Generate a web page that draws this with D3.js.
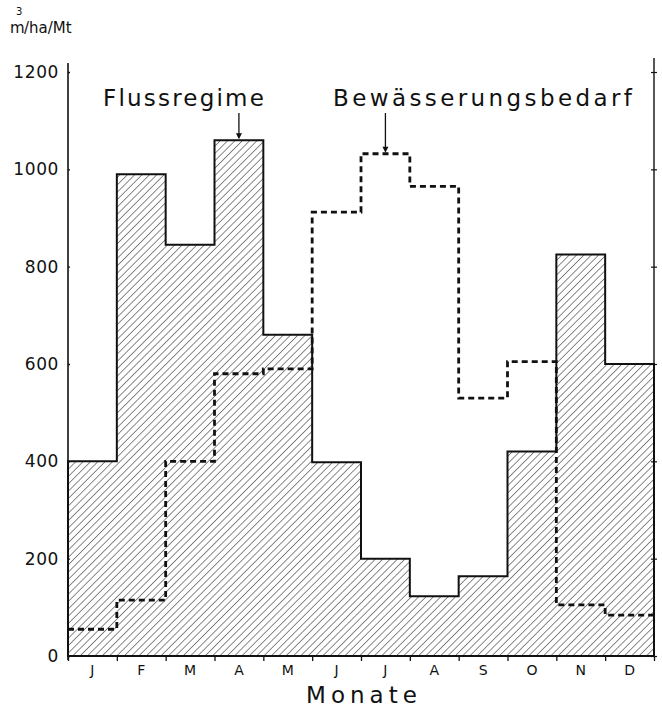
<!DOCTYPE html>
<html><head><meta charset="utf-8">
<script src="https://cdn.jsdelivr.net/npm/d3@7"></script>
<style>
html,body{margin:0;padding:0;background:#fff;}
svg{display:block;}
text{font-family:"DejaVu Sans",sans-serif;fill:#111;}
</style></head>
<body>
<svg id="chart" width="662" height="710"></svg>
<script>
const months = ["J","F","M","A","M","J","J","A","S","O","N","D"];
const flussregime = [400, 990, 845, 1060, 660, 398, 200, 123, 164, 420, 825, 600];
const bewaesserung = [55, 115, 400, 580, 590, 912, 1032, 965, 530, 605, 105, 84];
const yTicks = [0, 200, 400, 600, 800, 1000, 1200];

const svg = d3.select("#chart");
const x0 = 68, x1 = 654, yBase = 656, yTop = 72;
const x = d3.scaleLinear().domain([0, 12]).range([x0, x1]);
const y = d3.scaleLinear().domain([0, 1200]).range([yBase, yTop]);

// hatch pattern
const defs = svg.append("defs");
const pat = defs.append("pattern").attr("id","hatch").attr("patternUnits","userSpaceOnUse")
  .attr("width",5.2).attr("height",5.2).attr("patternTransform","rotate(45)");
pat.append("line").attr("x1",0).attr("y1",0).attr("x2",0).attr("y2",5.2)
  .attr("stroke","#2a2a2a").attr("stroke-width",1.1);

function stepPoints(vals){
  const pts = [];
  vals.forEach((v,i)=>{ pts.push([i, v]); pts.push([i+1, v]); });
  return pts;
}
const line = d3.line().x(d=>x(d[0])).y(d=>y(d[1]));

// Flussregime area
const fPts = [[0,0]].concat(stepPoints(flussregime)).concat([[12,0]]);
svg.append("path").attr("d", line(fPts) + "Z")
  .attr("fill","url(#hatch)").attr("stroke","#111").attr("stroke-width",2);

// Bewässerungsbedarf dashed step
svg.append("path").attr("d", line(stepPoints(bewaesserung)))
  .attr("fill","none").attr("stroke","#111").attr("stroke-width",2.8)
  .attr("stroke-dasharray","6,4");

// left axis
const yAxisL = d3.axisLeft(y).tickValues(yTicks).tickSize(5).tickPadding(3).tickFormat(d3.format("d"));
const gL = svg.append("g").attr("transform",`translate(${x0},0)`).call(yAxisL);
gL.select(".domain").remove();
gL.selectAll(".tick line").attr("stroke","#111").attr("stroke-width",1.3).attr("x2",2);
gL.selectAll(".tick text").attr("font-size",17).attr("fill","#111").attr("dx",-1).attr("letter-spacing","0.6");
svg.append("line").attr("x1",x0).attr("x2",x0).attr("y1",63).attr("y2",yBase+4)
  .attr("stroke","#111").attr("stroke-width",1.6);

// right axis
const yAxisR = d3.axisRight(y).tickValues(yTicks).tickSize(3).tickFormat("");
const gR = svg.append("g").attr("transform",`translate(${x1},0)`).call(yAxisR);
gR.select(".domain").remove();
gR.selectAll(".tick line").attr("stroke","#111").attr("stroke-width",1.2).attr("x1",-3);
svg.append("line").attr("x1",x1).attr("x2",x1).attr("y1",58).attr("y2",yBase)
  .attr("stroke","#111").attr("stroke-width",1.4);

// x axis
svg.append("line").attr("x1",x0).attr("x2",x1).attr("y1",yBase).attr("y2",yBase)
  .attr("stroke","#111").attr("stroke-width",2);
const xAxis = d3.axisBottom(x).tickValues(d3.range(0,13)).tickSize(5).tickFormat("");
const gX = svg.append("g").attr("transform",`translate(0,${yBase})`).call(xAxis);
gX.select(".domain").remove();
gX.selectAll(".tick line").attr("stroke","#111").attr("stroke-width",1.3);
svg.append("g").selectAll("text").data(months).join("text")
  .attr("x",(d,i)=>x(i+0.5)).attr("y",yBase+19).attr("text-anchor","middle")
  .attr("font-size",14).text(d=>d);

// axis titles
svg.append("text").attr("x",364).attr("y",703).attr("text-anchor","middle")
  .attr("font-size",23).attr("letter-spacing","5").text("Monate");
svg.append("text").attr("x",10).attr("y",33).attr("font-size",15).text("m");
svg.append("text").attr("x",16).attr("y",15).attr("font-size",10).text("3");
svg.append("text").attr("x",24).attr("y",33).attr("font-size",15).text("/ha/Mt");

// labels with arrows
function label(txt, tx, ls, ax, ayTop, ayEnd){
  svg.append("text").attr("x",tx).attr("y",106).attr("font-size",23).attr("letter-spacing",ls).text(txt);
  svg.append("line").attr("x1",ax).attr("x2",ax).attr("y1",ayTop).attr("y2",ayEnd-5)
    .attr("stroke","#111").attr("stroke-width",1.3);
  svg.append("path").attr("d",`M${ax-3},${ayEnd-7}L${ax+3},${ayEnd-7}L${ax},${ayEnd-1}Z`).attr("fill","#111");
}
label("Flussregime", 103, 2.2, x(3.5), 113, y(flussregime[3]));
label("Bewässerungsbedarf", 333, 3.4, x(6.5), 113, y(bewaesserung[6]));
</script>
</body></html>
